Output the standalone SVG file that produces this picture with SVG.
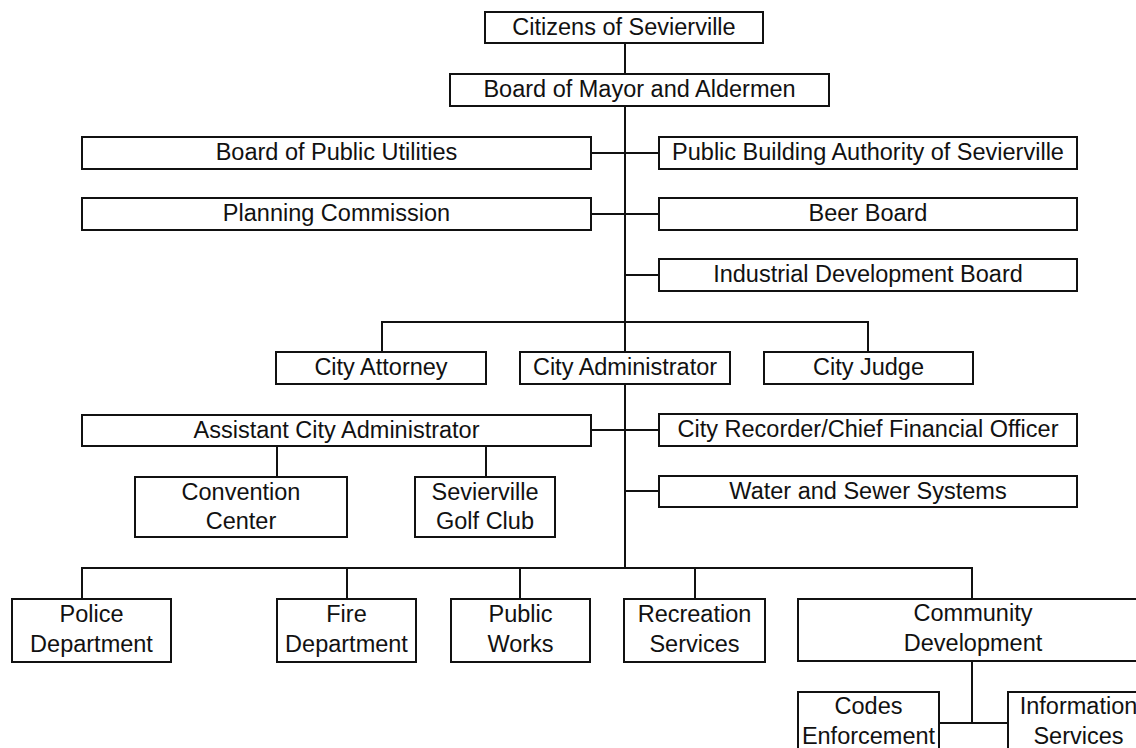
<svg xmlns="http://www.w3.org/2000/svg" width="1136" height="748" viewBox="0 0 1136 748">
  <style>
    .box { fill: #ffffff; stroke: #111111; stroke-width: 2; }
    .link { fill: none; stroke: #111111; stroke-width: 2; }
    .t { font-family: "Liberation Sans", Arial, Helvetica, sans-serif; font-size: 23.5px; text-anchor: middle; fill: #111111; }
  </style>
  <rect width="1136" height="748" fill="#ffffff"/>

  <!-- reporting lines -->
  <g id="connectors" class="link">
    <path d="M625 43 V74"/>
    <path d="M625 106 V352"/>
    <path d="M591 153 H659"/>
    <path d="M591 214 H659"/>
    <path d="M625 275 H659"/>
    <path d="M382 352 V322 H868 V352"/>
    <path d="M625 384 V568"/>
    <path d="M591 430 H659"/>
    <path d="M625 491 H659"/>
    <path d="M277 446 V477"/>
    <path d="M486 446 V477"/>
    <path d="M82 599 V568 H972 V599"/>
    <path d="M347 568 V599"/>
    <path d="M520 568 V599"/>
    <path d="M695 568 V599"/>
    <path d="M972 661 V723"/>
    <path d="M939 723 H1008"/>
  </g>

  <g id="citizens"><rect class="box" x="485" y="12" width="278" height="31"/><text class="t" x="624" y="35">Citizens of Sevierville</text></g>
  <g id="mayor-aldermen"><rect class="box" x="450" y="74" width="379" height="32"/><text class="t" x="639.5" y="97">Board of Mayor and Aldermen</text></g>

  <g id="public-utilities"><rect class="box" x="82" y="137" width="509" height="32"/><text class="t" x="336.5" y="160">Board of Public Utilities</text></g>
  <g id="building-authority"><rect class="box" x="659" y="137" width="418" height="32"/><text class="t" x="868" y="160">Public Building Authority of Sevierville</text></g>
  <g id="planning"><rect class="box" x="82" y="198" width="509" height="32"/><text class="t" x="336.5" y="221">Planning Commission</text></g>
  <g id="beer-board"><rect class="box" x="659" y="198" width="418" height="32"/><text class="t" x="868" y="221">Beer Board</text></g>
  <g id="industrial"><rect class="box" x="659" y="259" width="418" height="32"/><text class="t" x="868" y="282">Industrial Development Board</text></g>

  <g id="attorney"><rect class="box" x="276" y="352" width="210" height="32"/><text class="t" x="381" y="375">City Attorney</text></g>
  <g id="administrator"><rect class="box" x="520" y="352" width="210" height="32"/><text class="t" x="625" y="375">City Administrator</text></g>
  <g id="judge"><rect class="box" x="764" y="352" width="209" height="32"/><text class="t" x="868.5" y="375">City Judge</text></g>

  <g id="assistant-admin"><rect class="box" x="82" y="415" width="509" height="31"/><text class="t" x="336.5" y="438">Assistant City Administrator</text></g>
  <g id="recorder"><rect class="box" x="659" y="414" width="418" height="32"/><text class="t" x="868" y="437">City Recorder/Chief Financial Officer</text></g>
  <g id="convention"><rect class="box" x="135" y="477" width="212" height="60"/><text class="t" x="241" y="500">Convention</text><text class="t" x="241" y="529">Center</text></g>
  <g id="golf"><rect class="box" x="415" y="477" width="140" height="60"/><text class="t" x="485" y="500">Sevierville</text><text class="t" x="485" y="529">Golf Club</text></g>
  <g id="water-sewer"><rect class="box" x="659" y="476" width="418" height="31"/><text class="t" x="868" y="499">Water and Sewer Systems</text></g>

  <g id="police"><rect class="box" x="12" y="599" width="159" height="63"/><text class="t" x="91.5" y="622">Police</text><text class="t" x="91.5" y="652">Department</text></g>
  <g id="fire"><rect class="box" x="277" y="599" width="139" height="63"/><text class="t" x="346.5" y="622">Fire</text><text class="t" x="346.5" y="652">Department</text></g>
  <g id="public-works"><rect class="box" x="451" y="599" width="139" height="63"/><text class="t" x="520.5" y="622">Public</text><text class="t" x="520.5" y="652">Works</text></g>
  <g id="recreation"><rect class="box" x="624" y="599" width="141" height="63"/><text class="t" x="694.5" y="622">Recreation</text><text class="t" x="694.5" y="652">Services</text></g>
  <g id="community-dev"><rect class="box" x="798" y="599" width="350" height="62"/><text class="t" x="973" y="621">Community</text><text class="t" x="973" y="651">Development</text></g>
  <g id="codes"><rect class="box" x="798" y="692" width="141" height="66"/><text class="t" x="868.5" y="714">Codes</text><text class="t" x="868.5" y="744">Enforcement</text></g>
  <g id="info-services"><rect class="box" x="1008" y="692" width="141" height="66"/><text class="t" x="1078.5" y="714">Information</text><text class="t" x="1078.5" y="744">Services</text></g>
</svg>
